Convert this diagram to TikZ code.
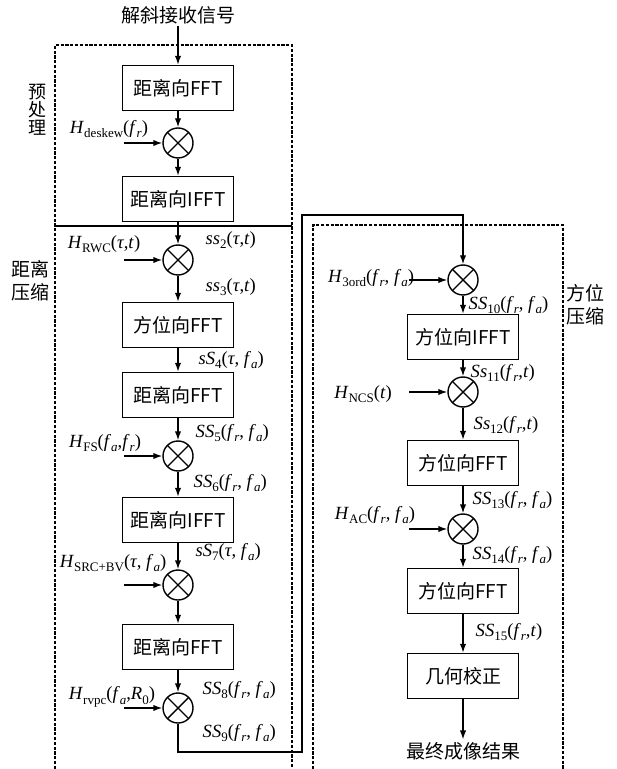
\documentclass[tikz,border=0pt]{standalone}
\usepackage{fontspec}
\setmainfont{Liberation Serif}
\newfontfamily\cjk{Noto Sans CJK SC}
\usetikzlibrary{arrows.meta, calc}

\newcommand{\lo}[1]{\raisebox{-2.2pt}{\fontsize{6.5}{7}\selectfont #1}}
\newcommand{\fR}{\textit{f}\lo{\textit{r}}}
\newcommand{\fA}{\textit{f}\lo{\textit{a}}}
\newcommand{\tauv}{\textit{τ}}

\begin{document}
\begin{tikzpicture}[
                    % pixel-like units, y pointing down
                    x=0.5pt, y=-0.5pt,
                    every path/.style={color=black, line width=0.7pt},
                    every node/.style={color=black, font=\fontsize{9.3}{11}\selectfont}
                  ]
                  % --- Define dimensions ---
                  \def\Xl{178}   % x of the left column
                  \def\Xr{463}   % x of the right column
                  \def\In{38}    % length of the input arrows

                  % --- Styles ---
                  \tikzstyle{box}=[draw, rectangle, minimum width=55.5pt, minimum height=22.5pt, inner sep=0pt, font=\cjk\fontsize{9.5}{11}\selectfont]
                  \tikzstyle{mult}=[draw, circle, minimum size=15pt, inner sep=0pt,
                    path picture={\draw (path picture bounding box.north west) -- (path picture bounding box.south east)
                                        (path picture bounding box.north east) -- (path picture bounding box.south west);}]
                  \tikzstyle{arr}=[-{Latex[length=4.5pt,width=3.2pt]}]
                  \tikzstyle{frame style}=[dash pattern=on 1.6pt off 0.8pt, line width=0.6pt]
                  \tikzstyle{cjk label}=[font=\cjk\fontsize{9.5}{11}\selectfont, inner sep=1pt]
                  \tikzstyle{sig label}=[anchor=west, inner sep=0pt]

                  \useasboundingbox (0,0) rectangle (616,769);

                  % --- Dashed frames ---
                  \draw[frame style] (55,769) -- (55,45) -- (292,45) -- (292,769);
                  \draw (55,226) -- (292,226);
                  \draw[frame style] (313,769) -- (313,225) -- (563,225) -- (563,769);

                  \node[cjk label, align=center, font=\cjk\fontsize{9}{9}\selectfont] (pre) at (37,110) {预\\处\\理};
                  \node[cjk label, align=center, font=\cjk\fontsize{9.5}{11.5}\selectfont] (rcomp) at (30,281) {距离\\压缩};
                  \node[cjk label, align=center, font=\cjk\fontsize{9.5}{11.5}\selectfont] (acomp) at (585,305) {方位\\压缩};

                  % --- Blocks ---
  \foreach \n/\x/\y/\t in {b1/\Xl/88/距离向FFT, b2/\Xl/199/距离向IFFT, b3/\Xl/325/方位向FFT,
                           b4/\Xl/395/距离向FFT, b5/\Xl/520/距离向IFFT, b6/\Xl/647/距离向FFT,
                           b7/\Xr/337/方位向IFFT, b8/\Xr/463/方位向FFT, b9/\Xr/591/方位向FFT, b10/\Xr/676/几何校正}
    \node[box] (\n) at (\x,\y) {\t};

  % multipliers
  \foreach \n/\x/\y in {m1/\Xl/143, m2/\Xl/260, m3/\Xl/456, m4/\Xl/585, m5/\Xl/708,
                        m6/\Xr/280, m7/\Xr/392, m8/\Xr/529}
    \node[mult] (\n) at (\x,\y) {};

  \node[cjk label] (rx) at (\Xl,15) {解斜接收信号};
  \node[cjk label] (res) at (\Xr,751) {最终成像结果};

  % --- Signal flow ---
  \foreach \a/\b in {rx/b1, b1/m1, m1/b2, b2/m2, m2/b3, b3/b4, b4/m3, m3/b5, b5/m4, m4/b6, b6/m5,
                     m6/b7, b7/m7, m7/b8, m8/b9, b8/m8, b9/b10, b10/res}
    \draw[arr] (\a) -- (\b);

  % feedback from the left column to the right one
  \coordinate (fbA) at (302,752);
  \coordinate (fbB) at (302,215);
  \draw[arr] (m5) |- (fbA) -- (fbB) -| (m6);

  % reference functions
  \foreach \m in {m1,m2,m3,m4,m5,m6,m7,m8} {
    \coordinate (\m in) at ($(\m.west)+(-\In,0)$);
    \draw[arr] (\m in) -- (\m.west);
  }

  \node (hdeskew) at (109,129) {\textit{H}\lo{deskew}(\fR)};
  \node (hrwc) at (104,244) {\textit{H}\lo{RWC}(\tauv,\textit{t})};
  \node (hfs) at (105,443) {\textit{H}\lo{FS}(\fA,\fR)};
  \node (hsrc) at (113,563) {\textit{H}\lo{SRC+BV}(\tauv, \fA)};
  \node (hrvpc) at (112,697) {\textit{H}\lo{rvpc}(\fA,\textit{R}\lo{0})};
  \node (h3ord) at (371,278) {\textit{H}\lo{3ord}(\fR, \fA)};
  \node (hncs) at (363,394) {\textit{H}\lo{NCS}(\textit{t})};
  \node (hac) at (375,515) {\textit{H}\lo{AC}(\fR, \fA)};

  % signal names
  \node[sig label] (ss2) at (205,240) {\textit{ss}\lo{2}(\tauv,\textit{t})};
  \node[sig label] (ss3) at (205,287) {\textit{ss}\lo{3}(\tauv,\textit{t})};
  \node[sig label] (sS4) at (198,360) {\textit{sS}\lo{4}(\tauv, \fA)};
  \node[sig label] (SS5) at (195,433) {\textit{SS}\lo{5}(\fR, \fA)};
  \node[sig label] (SS6) at (193,483) {\textit{SS}\lo{6}(\fR, \fA)};
  \node[sig label] (sS7) at (195,552) {\textit{sS}\lo{7}(\tauv, \fA)};
  \node[sig label] (SS8) at (202,690) {\textit{SS}\lo{8}(\fR, \fA)};
  \node[sig label] (SS9) at (202,733) {\textit{SS}\lo{9}(\fR, \fA)};
  \node[sig label] (SS10) at (468,305) {\textit{SS}\lo{10}(\fR, \fA)};
  \node[sig label] (Ss11) at (470,373) {\textit{Ss}\lo{11}(\fR,\textit{t})};
  \node[sig label] (Ss12) at (473,425) {\textit{Ss}\lo{12}(\fR,\textit{t})};
  \node[sig label] (SS13) at (472,500) {\textit{SS}\lo{13}(\fR, \fA)};
  \node[sig label] (SS14) at (472,555) {\textit{SS}\lo{14}(\fR, \fA)};
  \node[sig label] (SS15) at (475,632) {\textit{SS}\lo{15}(\fR,\textit{t})};

\end{tikzpicture}
\end{document}
